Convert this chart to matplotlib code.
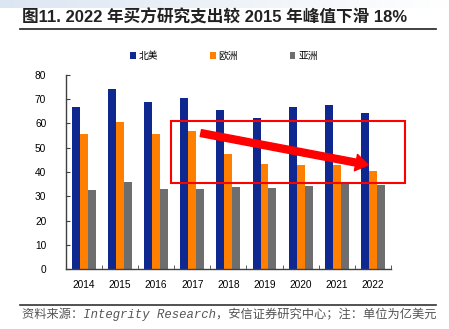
import matplotlib.pyplot as plt
import numpy as np
from matplotlib.patches import Rectangle, FancyArrowPatch
from matplotlib.lines import Line2D

plt.rcParams['font.family'] = ['Liberation Sans', 'Noto Sans CJK SC', 'DejaVu Sans']

years = ['2014', '2015', '2016', '2017', '2018', '2019', '2020', '2021', '2022']
na = [66.8, 74.2, 68.7, 70.5, 65.4, 62.1, 66.6, 67.6, 64.2]   # 北美
eu = [55.8, 60.6, 55.8, 56.8, 47.3, 43.2, 42.9, 42.9, 40.6]   # 欧洲
asia = [32.5, 35.9, 32.9, 32.9, 34.0, 33.3, 34.4, 35.5, 34.7] # 亚洲
names = ['北美', '欧洲', '亚洲']
colors = ['#0F2890', '#FF8000', '#6E6E6E']

fig = plt.figure(figsize=(4.49, 3.29), dpi=100)

# light band at top
band = fig.add_axes([0, 1 - 8 / 329, 1, 8 / 329])
grad = np.linspace(0, 1, 256).reshape(1, -1)
band.imshow(grad, aspect='auto', cmap=plt.matplotlib.colors.LinearSegmentedColormap.from_list('b', ['#DCE6F2', '#FFFFFF']),
            extent=[0, 1, 0, 1])
band.axis('off')

fig.text(22 / 449, 1 - 17 / 329, '图11. 2022 年买方研究支出较 2015 年峰值下滑 18%',
         fontsize=12, fontweight='bold', color='#222222', va='center', ha='left')
fig.add_artist(Line2D([20 / 449, 436 / 449], [1 - 29 / 329] * 2, color='#333333', lw=1.3))

ax = fig.add_axes([65.7 / 449, 1 - 269.3 / 329, (391 - 65.7) / 449, (269.3 - 74.7) / 329])
x = np.arange(len(years))
w = 0.22
for i, (vals, c, n) in enumerate(zip([na, eu, asia], colors, names)):
    ax.bar(x + (i - 1) * w, vals, width=w, color=c, label=n)

ax.set_xlim(-0.5, 8.5)
ax.set_ylim(0, 80)
ax.set_yticks(range(0, 81, 10))
ax.set_xticks(x)
ax.set_xticklabels(years)
ax.set_xticks(np.arange(-0.5, 9, 1), minor=True)
ax.tick_params(axis='x', which='major', length=0, labelsize=7.3, pad=8)
ax.tick_params(axis='x', which='minor', length=3, direction='in', color='#404040')
ax.tick_params(axis='y', length=3, direction='in', labelsize=7.3, pad=14, color='#404040')
for s in ['top', 'right']:
    ax.spines[s].set_visible(False)
for s in ['left', 'bottom']:
    ax.spines[s].set_color('#404040')
    ax.spines[s].set_linewidth(1)

# highlight box and arrow
ax.add_patch(Rectangle((2.42, 35.6), 8.88 - 2.42, 61.1 - 35.6, fill=False,
                       edgecolor='#FF0000', lw=1.5, clip_on=False, zorder=5))
arr = FancyArrowPatch((3.24, 56.0), (7.87, 42.9), mutation_scale=10,
                      arrowstyle='simple,head_width=1.2,head_length=0.9,tail_width=0.5',
                      color='#FF0000', zorder=6, clip_on=False, shrinkA=0, shrinkB=0)
ax.add_patch(arr)

leg = ax.legend(loc='center', bbox_to_anchor=(224 / 449, 1 - 56 / 329), bbox_transform=fig.transFigure,
                ncol=3, frameon=False, fontsize=7, handlelength=0.6, handleheight=0.6,
                handletextpad=0.3, columnspacing=5.3)

fig.add_artist(Line2D([20 / 449, 436 / 449], [1 - 305 / 329] * 2, color='#333333', lw=1.2))
fig.text(22 / 449, 1 - 314.5 / 329, '资料来源：Integrity Research，安信证券研究中心；注：单位为亿美元',
         fontsize=8.8, style='italic', color='#555555', va='center', ha='left',
         family=['Liberation Mono', 'Noto Sans CJK SC'])

fig.savefig('out.png', dpi=100)
